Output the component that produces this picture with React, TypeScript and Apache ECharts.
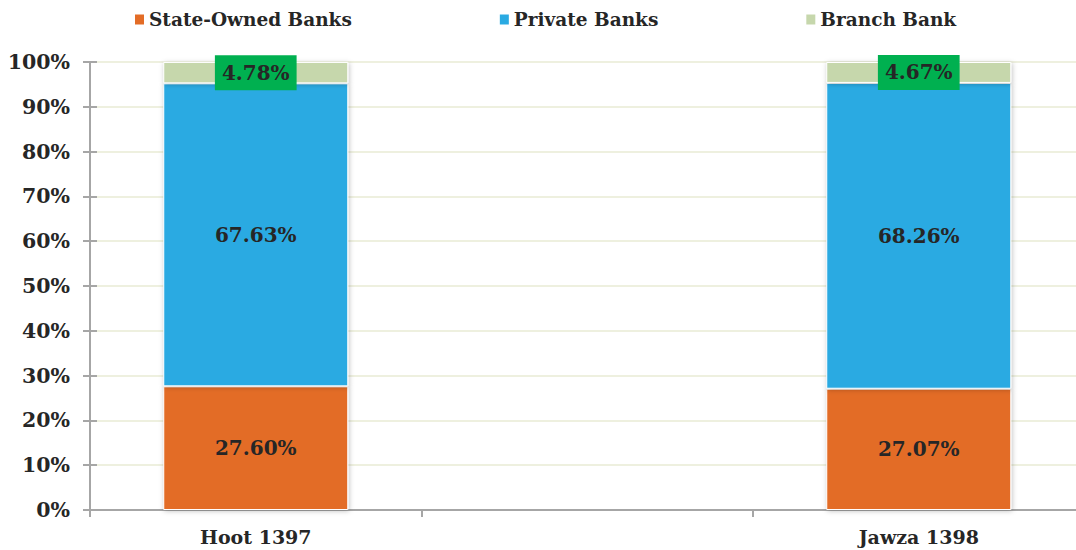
import React, { useEffect, useRef } from "react";
import * as echarts from "echarts";

const categories = ["Hoot 1397", "", "Jawza 1398"];
const stateOwned = [27.6, null, 27.07];
const privateBanks = [67.63, null, 68.26];
const branchBank = [4.78, null, 4.67];
const yTicks = { min: 0, max: 100, interval: 10 };

const FONT = "DejaVu Serif";
const TXT = "#262626";

export default function App() {
  const ref = useRef<HTMLDivElement>(null);
  useEffect(() => {
    const chart = echarts.init(ref.current!, undefined, { renderer: "svg" });
    const fmt = (p: any) => Number(p.value).toFixed(2) + "%";
    const shadow = { shadowBlur: 5, shadowColor: "rgba(0,0,0,0.25)", shadowOffsetX: 1, shadowOffsetY: 1 };
    chart.setOption({
      animation: false,
      legend: {
        left: 128,
        top: 5,
        itemWidth: 11,
        itemHeight: 12,
        itemGap: 146,
        icon: "rect",
        textStyle: { fontFamily: FONT, fontWeight: "bold", fontSize: 18.5, color: TXT, padding: [0, 0, 0, -1] },
        data: ["State-Owned Banks", "Private Banks", "Branch Bank"],
      },
      grid: { left: 90, right: -8.5, top: 62, bottom: 40, containLabel: false, outerBoundsMode: "none" },
      xAxis: {
        type: "category",
        data: categories,
        axisLine: { lineStyle: { color: "#a6a6a6", width: 2 } },
        axisTick: { show: true, length: 7, lineStyle: { color: "#a6a6a6", width: 2 } },
        axisLabel: { fontFamily: FONT, fontWeight: "bold", fontSize: 19, color: TXT, margin: 17 },
      },
      yAxis: [
        {
          type: "value",
          min: yTicks.min,
          max: yTicks.max,
          interval: yTicks.interval,
          axisLine: { show: true, lineStyle: { color: "#a6a6a6", width: 2 } },
          axisTick: { show: true, length: 7, lineStyle: { color: "#a6a6a6", width: 2 } },
          splitLine: { lineStyle: { color: "#eef0df", width: 2 } },
          axisLabel: { formatter: "{value}%", fontFamily: FONT, fontWeight: "bold", fontSize: 20.5, color: TXT, margin: 20 },
        },
        {
          type: "value",
          position: "left",
          offset: 0,
          min: yTicks.min,
          max: yTicks.max,
          interval: yTicks.interval,
          axisLine: { show: false },
          axisTick: { show: true, inside: true, length: 7, lineStyle: { color: "#a6a6a6", width: 2 } },
          splitLine: { show: false },
          axisLabel: { show: false },
        },
      ],
      series: [
        {
          name: "State-Owned Banks",
          type: "bar",
          stack: "t",
          barWidth: 185,
          data: stateOwned,
          itemStyle: { color: "#e36c26", borderColor: "#ffffff", borderWidth: 1, ...shadow },
          label: { show: true, position: "inside", formatter: fmt, fontFamily: FONT, fontWeight: "bold", fontSize: 20, color: TXT },
        },
        {
          name: "Private Banks",
          type: "bar",
          stack: "t",
          barWidth: 185,
          data: privateBanks,
          itemStyle: { color: "#2aaae2", borderColor: "#ffffff", borderWidth: 1, ...shadow },
          label: { show: true, position: "inside", formatter: fmt, fontFamily: FONT, fontWeight: "bold", fontSize: 20, color: TXT },
        },
        {
          name: "Branch Bank",
          type: "bar",
          stack: "t",
          barWidth: 185,
          data: branchBank,
          itemStyle: { color: "#c6d7ac", borderColor: "#ffffff", borderWidth: 1, ...shadow },
          label: {
            show: true,
            position: "inside",
            formatter: fmt,
            fontFamily: FONT,
            fontWeight: "bold",
            fontSize: 20,
            color: TXT,
            backgroundColor: "#00b050",
            padding: [8, 7, 7, 7],
          },
        },
      ],
    });
    return () => chart.dispose();
  }, []);
  return <div ref={ref} style={{ position: "absolute", left: 0, top: 0, width: 1076, height: 550 }} />;
}
